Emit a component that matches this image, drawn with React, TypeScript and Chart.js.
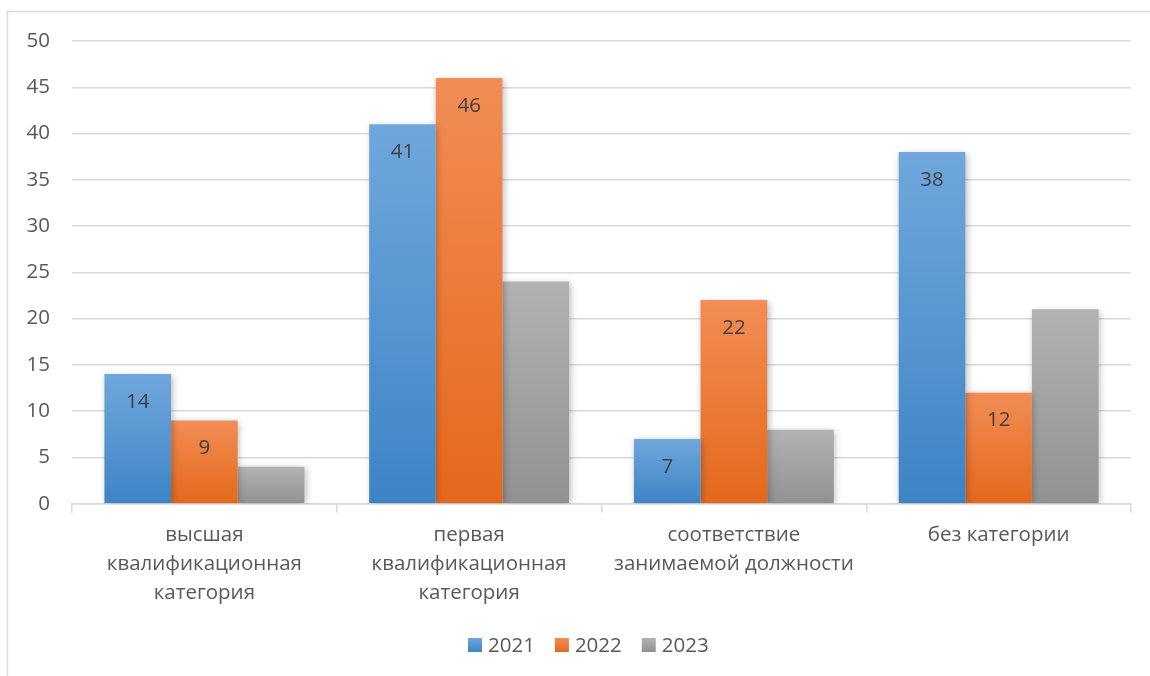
import React, { useEffect, useRef } from "react";
import { Chart, registerables } from "chart.js";

Chart.register(...registerables);

const categories: string[][] = [
  ["высшая", "квалификационная", "категория"],
  ["первая", "квалификационная", "категория"],
  ["соответствие", "занимаемой должности"],
  ["без категории"],
];
const seriesNames = ["2021", "2022", "2023"];
const values2021 = [14, 41, 7, 38];
const values2022 = [9, 46, 22, 12];
const values2023 = [4, 24, 8, 21];
const showLabels = [true, true, false];

const topColors = ["#6fa7dc", "#f28d55", "#b2b2b2"];
const bottomColors = ["#3d84c6", "#e4681b", "#919191"];
const solidColors = ["#5b9bd5", "#ed7d31", "#a5a5a5"];

const FONT = "'Open Sans', 'Noto Sans', sans-serif";
const FS = 20.5;

export default function App() {
  const ref = useRef<HTMLCanvasElement | null>(null);
  useEffect(() => {
    if (!ref.current) return;
    const grad = (i: number) => (ctx: any) => {
      const chart = ctx.chart;
      const area = chart.chartArea;
      const y = chart.scales?.y;
      if (!area || !y || ctx.type !== "data") return solidColors[i];
      const v = ctx.raw as number;
      const top = y.getPixelForValue(v);
      const bottom = y.getPixelForValue(0);
      if (!isFinite(top) || !isFinite(bottom) || top === bottom) return solidColors[i];
      const g = chart.ctx.createLinearGradient(0, top, 0, bottom);
      g.addColorStop(0, topColors[i]);
      g.addColorStop(1, bottomColors[i]);
      return g;
    };
    const all = [values2021, values2022, values2023];
    const plugin = {
      id: "extras",
      beforeDraw(chart: any) {
        const c = chart.ctx;
        c.save();
        c.strokeStyle = "#d9d9d9";
        c.lineWidth = 1.5;
        c.strokeRect(7.5, 11.5, 1300, 800);
        c.restore();
      },
      beforeDatasetDraw(chart: any) {
        const c = chart.ctx;
        c.save();
        c.shadowColor = "rgba(0,0,0,0.28)";
        c.shadowBlur = 7;
        c.shadowOffsetX = 1.5;
        c.shadowOffsetY = 1.5;
      },
      afterDatasetDraw(chart: any) {
        chart.ctx.restore();
      },
      afterDatasetsDraw(chart: any) {
        const c = chart.ctx;
        c.save();
        c.fillStyle = "#404040";
        c.font = `${FS}px ${FONT}`;
        c.textAlign = "center";
        c.textBaseline = "middle";
        chart.data.datasets.forEach((ds: any, di: number) => {
          if (!showLabels[di]) return;
          const meta = chart.getDatasetMeta(di);
          meta.data.forEach((bar: any, i: number) => {
            c.fillText(String(all[di][i]), bar.x, bar.y + 28);
          });
        });
        c.restore();
      },
      afterDraw(chart: any) {
        const c = chart.ctx;
        c.save();
        c.font = `${FS}px ${FONT}`;
        c.textBaseline = "middle";
        c.textAlign = "left";
        let x = 468;
        const cy = 645;
        seriesNames.forEach((n, i) => {
          const g = c.createLinearGradient(0, cy - 7, 0, cy + 7);
          g.addColorStop(0, topColors[i]);
          g.addColorStop(1, bottomColors[i]);
          c.fillStyle = g;
          c.fillRect(x, cy - 7, 14, 14);
          x += 20;
          c.fillStyle = "#595959";
          c.fillText(n, x, cy + 1);
          x += c.measureText(n).width + 20;
        });
        c.restore();
      },
    };
    const chart = new Chart(ref.current, {
      type: "bar",
      data: {
        labels: categories as any,
        datasets: seriesNames.map((n, i) => ({
          label: n,
          data: all[i],
          backgroundColor: grad(i) as any,
          borderWidth: 0,
          barPercentage: 1,
          categoryPercentage: 0.755,
        })),
      },
      options: {
        animation: false,
        responsive: false,
        maintainAspectRatio: false,
        layout: { padding: { left: 0, right: 19, top: 41, bottom: 60 } },
        plugins: {
          tooltip: { enabled: false },
          title: { display: false },
          legend: { display: false },
        },
        scales: {
          x: {
            grid: {
              offset: true,
              drawOnChartArea: false,
              drawTicks: true,
              tickLength: 9,
              color: "#d9d9d9",
              lineWidth: 1.5,
            },
            border: { color: "#d9d9d9", width: 1.5 },
            ticks: {
              font: { family: FONT, size: FS, lineHeight: 1.42 },
              color: "#595959",
              padding: 8,
              maxRotation: 0,
              autoSkip: false,
            },
          },
          y: {
            min: 0,
            max: 50,
            afterFit: (s: any) => {
              s.width = 72;
            },
            grid: { color: "#d9d9d9", lineWidth: 1.5, drawTicks: false },
            border: { display: false },
            ticks: {
              stepSize: 5,
              font: { family: FONT, size: FS },
              color: "#595959",
              padding: 22,
            },
          },
        },
      },
      plugins: [plugin],
    });
    return () => chart.destroy();
  }, []);
  return (
    <div style={{ position: "absolute", left: 0, top: 0, width: 1150, height: 676, background: "#fff" }}>
      <canvas ref={ref} width={1150} height={676} style={{ width: 1150, height: 676 }} />
    </div>
  );
}
